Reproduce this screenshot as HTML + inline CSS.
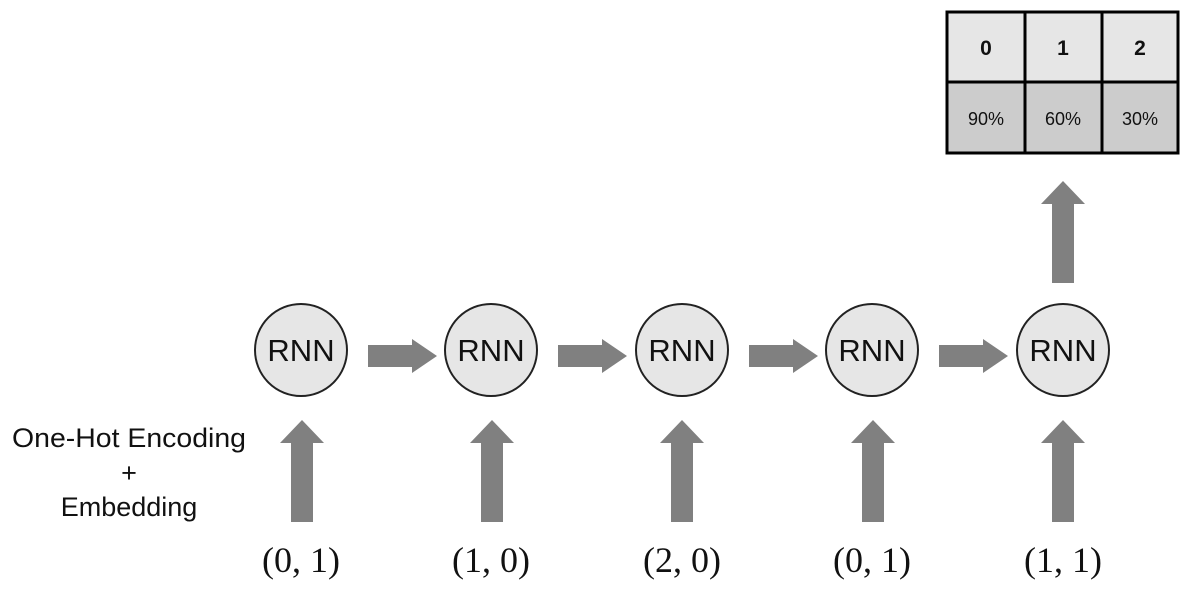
<!DOCTYPE html>
<html><head><style>
body{margin:0;width:1188px;height:586px;background:#fff;overflow:hidden}
</style></head><body>
<svg width="1188" height="586" viewBox="0 0 1188 586" xmlns="http://www.w3.org/2000/svg">
<defs>
<g id="up"><polygon points="-11,102 -11,23 -22,23 0,0 22,23 11,23 11,102" fill="#808080"/></g>
<g id="right"><polygon points="0,-11 44,-11 44,-17 69,0 44,17 44,11 0,11" fill="#808080"/></g>
</defs>
<rect x="947" y="12" width="231" height="70" fill="#e6e6e6"/>
<rect x="947" y="82" width="231" height="71" fill="#cccccc"/>
<g stroke="#000" stroke-width="3" fill="none">
<rect x="947" y="12" width="231" height="141"/>
<line x1="947" y1="82" x2="1178" y2="82"/>
<line x1="1025" y1="12" x2="1025" y2="153"/>
<line x1="1102" y1="12" x2="1102" y2="153"/>
</g>
<g font-family="Liberation Sans, sans-serif" text-anchor="middle" fill="#111">
<text x="986" y="55" font-size="21" font-weight="bold">0</text>
<text x="1063" y="55" font-size="21" font-weight="bold">1</text>
<text x="1140" y="55" font-size="21" font-weight="bold">2</text>
<text x="986" y="125" font-size="18">90%</text>
<text x="1063" y="125" font-size="18">60%</text>
<text x="1140" y="125" font-size="18">30%</text>
</g>
<use href="#up" x="1063" y="181"/>
<g font-family="Liberation Sans, sans-serif" font-size="31" text-anchor="middle" fill="#111">
<g transform="translate(301,350)"><circle r="46" fill="#e6e6e6" stroke="#222" stroke-width="2"/><text y="11">RNN</text></g>
<g transform="translate(491,350)"><circle r="46" fill="#e6e6e6" stroke="#222" stroke-width="2"/><text y="11">RNN</text></g>
<g transform="translate(682,350)"><circle r="46" fill="#e6e6e6" stroke="#222" stroke-width="2"/><text y="11">RNN</text></g>
<g transform="translate(872,350)"><circle r="46" fill="#e6e6e6" stroke="#222" stroke-width="2"/><text y="11">RNN</text></g>
<g transform="translate(1063,350)"><circle r="46" fill="#e6e6e6" stroke="#222" stroke-width="2"/><text y="11">RNN</text></g>
</g>
<use href="#right" x="368" y="356"/>
<use href="#right" x="558" y="356"/>
<use href="#right" x="749" y="356"/>
<use href="#right" x="939" y="356"/>
<use href="#up" x="302" y="420"/>
<use href="#up" x="492" y="420"/>
<use href="#up" x="682" y="420"/>
<use href="#up" x="873" y="420"/>
<use href="#up" x="1063" y="420"/>
<g font-family="Liberation Serif, serif" font-size="36" text-anchor="middle" fill="#111">
<text x="301" y="572">(0, 1)</text>
<text x="491" y="572">(1, 0)</text>
<text x="682" y="572">(2, 0)</text>
<text x="872" y="572">(0, 1)</text>
<text x="1063" y="572">(1, 1)</text>
</g>
<g font-family="Liberation Sans, sans-serif" font-size="27" text-anchor="middle" fill="#111">
<text x="129" y="447" textLength="234" lengthAdjust="spacingAndGlyphs">One-Hot Encoding</text>
<text x="129" y="482">+</text>
<text x="129" y="516">Embedding</text>
</g>
</svg>
</body></html>
